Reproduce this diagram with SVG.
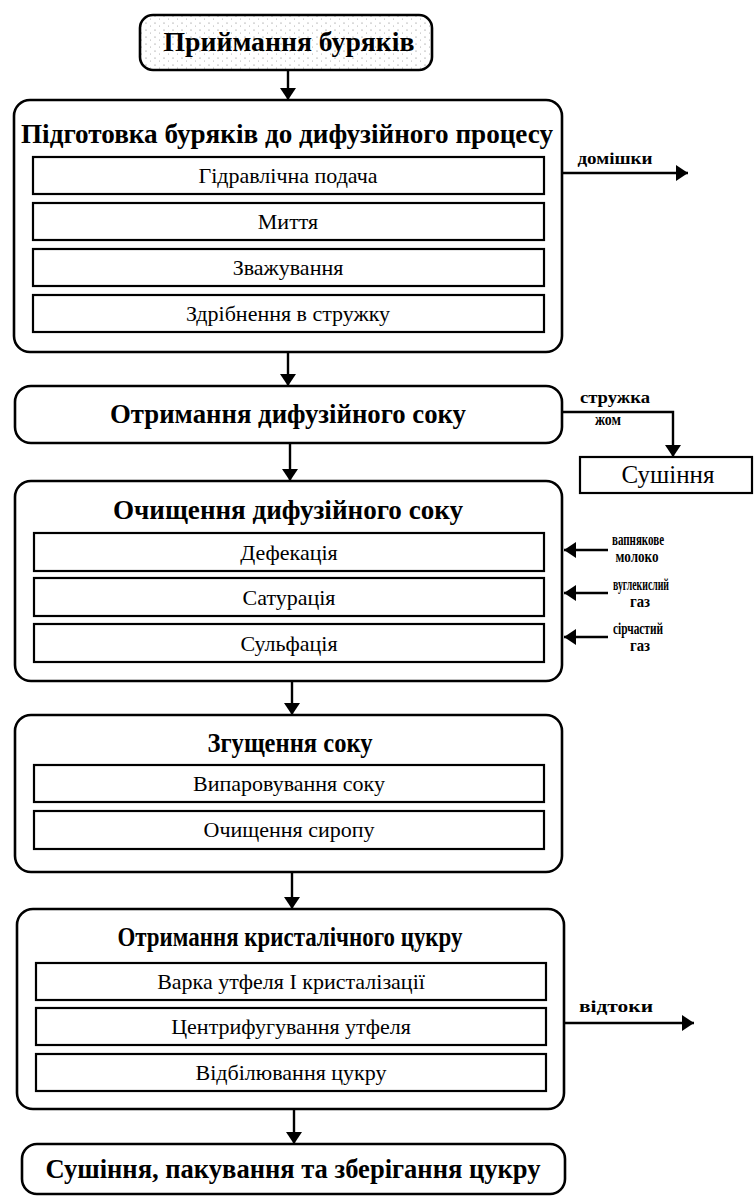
<svg xmlns="http://www.w3.org/2000/svg" width="756" height="1196" viewBox="0 0 756 1196">
<style>
.outer{fill:#fff;stroke:#000;stroke-width:2.6}
.inner{fill:#fff;stroke:#000;stroke-width:2.2}
.title{font-family:"Liberation Serif",serif;font-weight:bold;font-size:27px;text-anchor:middle}
.item{font-family:"Liberation Serif",serif;font-size:22px;text-anchor:middle}
.lbl{font-family:"Liberation Serif",serif;font-weight:bold;font-size:16px;text-anchor:middle}
.conn{stroke:#000;stroke-width:2.4;fill:none}
</style>
<defs>
<marker id="ah" viewBox="0 0 12 16" refX="12" refY="8" markerWidth="12" markerHeight="16" markerUnits="userSpaceOnUse" orient="auto">
<path d="M0,0 L12,8 L0,16 Z" fill="#000"/>
</marker>
<pattern id="speck" width="9" height="7" patternUnits="userSpaceOnUse">
<rect width="9" height="7" fill="#fff"/>
<circle cx="2" cy="2" r="0.6" fill="#777"/>
<circle cx="6.5" cy="5" r="0.5" fill="#999"/>
</pattern>
</defs>
<rect width="756" height="1196" fill="#fff"/>

<g id="connectors">
<line class="conn" x1="288" y1="70" x2="288" y2="100" marker-end="url(#ah)"/>
<line class="conn" x1="562" y1="173" x2="688" y2="173" marker-end="url(#ah)"/>
<line class="conn" x1="288" y1="352" x2="288" y2="386" marker-end="url(#ah)"/>
<polyline class="conn" points="562,412 673,412 673,457" marker-end="url(#ah)"/>
<line class="conn" x1="290" y1="443" x2="290" y2="481" marker-end="url(#ah)"/>
<line class="conn" x1="608" y1="550" x2="564" y2="550" marker-end="url(#ah)"/>
<line class="conn" x1="608" y1="593" x2="564" y2="593" marker-end="url(#ah)"/>
<line class="conn" x1="608" y1="637" x2="564" y2="637" marker-end="url(#ah)"/>
<line class="conn" x1="292" y1="681" x2="292" y2="715" marker-end="url(#ah)"/>
<line class="conn" x1="292" y1="872" x2="292" y2="909" marker-end="url(#ah)"/>
<line class="conn" x1="562" y1="1023" x2="694" y2="1023" marker-end="url(#ah)"/>
<line class="conn" x1="294" y1="1109" x2="294" y2="1144" marker-end="url(#ah)"/>
</g>

<g id="n-receive">
<rect x="140" y="15" width="292" height="55" rx="13" fill="url(#speck)" stroke="#000" stroke-width="2.6"/>
<text class="title" x="289" y="51" textLength="251" lengthAdjust="spacingAndGlyphs">Приймання буряків</text>
</g>

<g id="n-prep">
<rect class="outer" x="14" y="100" width="548" height="252" rx="16"/>
<text class="title" x="287" y="143" textLength="532" lengthAdjust="spacingAndGlyphs">Підготовка буряків до дифузійного процесу</text>
<rect class="inner" x="33" y="157" width="511" height="37"/>
<text class="item" x="288" y="183">Гідравлічна подача</text>
<rect class="inner" x="33" y="203" width="511" height="37"/>
<text class="item" x="288" y="229">Миття</text>
<rect class="inner" x="33" y="249" width="511" height="37"/>
<text class="item" x="288" y="275">Зважування</text>
<rect class="inner" x="33" y="295" width="511" height="37"/>
<text class="item" x="288" y="321">Здрібнення в стружку</text>
</g>
<text class="lbl" x="615" y="164" textLength="75" lengthAdjust="spacingAndGlyphs">домішки</text>

<g id="n-juice">
<rect class="outer" x="15" y="386" width="547" height="57" rx="16"/>
<text class="title" x="288" y="423" textLength="356" lengthAdjust="spacingAndGlyphs">Отримання дифузійного соку</text>
</g>
<text class="lbl" x="615" y="403" textLength="70" lengthAdjust="spacingAndGlyphs">стружка</text>
<text class="lbl" x="608" y="425" textLength="26" lengthAdjust="spacingAndGlyphs">жом</text>

<g id="n-dry1">
<rect class="inner" x="580" y="457" width="172" height="36"/>
<text class="item" x="668" y="483" style="font-size:25px">Сушіння</text>
</g>

<g id="n-clean">
<rect class="outer" x="15" y="481" width="547" height="200" rx="16"/>
<text class="title" x="288" y="519" textLength="350" lengthAdjust="spacingAndGlyphs">Очищення дифузійного соку</text>
<rect class="inner" x="34" y="533" width="510" height="38"/>
<text class="item" x="289" y="560">Дефекація</text>
<rect class="inner" x="34" y="578" width="510" height="38"/>
<text class="item" x="289" y="605">Сатурація</text>
<rect class="inner" x="34" y="624" width="510" height="38"/>
<text class="item" x="289" y="651">Сульфація</text>
</g>
<text class="lbl" x="638" y="545" textLength="52" lengthAdjust="spacingAndGlyphs">вапнякове</text>
<text class="lbl" x="637" y="562" textLength="43" lengthAdjust="spacingAndGlyphs">молоко</text>
<text class="lbl" x="641" y="590" textLength="56" lengthAdjust="spacingAndGlyphs">вуглекислий</text>
<text class="lbl" x="640" y="607" textLength="20" lengthAdjust="spacingAndGlyphs">газ</text>
<text class="lbl" x="638" y="634" textLength="50" lengthAdjust="spacingAndGlyphs">сірчастий</text>
<text class="lbl" x="640" y="651" textLength="20" lengthAdjust="spacingAndGlyphs">газ</text>

<g id="n-thick">
<rect class="outer" x="15" y="715" width="547" height="157" rx="16"/>
<text class="title" x="290" y="752" textLength="165" lengthAdjust="spacingAndGlyphs">Згущення соку</text>
<rect class="inner" x="34" y="765" width="510" height="37"/>
<text class="item" x="289" y="791">Випаровування соку</text>
<rect class="inner" x="34" y="811" width="510" height="38"/>
<text class="item" x="289" y="837">Очищення сиропу</text>
</g>

<g id="n-cryst">
<rect class="outer" x="17" y="909" width="547" height="200" rx="16"/>
<text class="title" x="290" y="946" textLength="345" lengthAdjust="spacingAndGlyphs">Отримання кристалічного цукру</text>
<rect class="inner" x="36" y="963" width="510" height="37"/>
<text class="item" x="291" y="989">Варка утфеля І кристалізації</text>
<rect class="inner" x="36" y="1008" width="510" height="37"/>
<text class="item" x="291" y="1034">Центрифугування утфеля</text>
<rect class="inner" x="36" y="1054" width="510" height="37"/>
<text class="item" x="291" y="1080">Відбілювання цукру</text>
</g>
<text class="lbl" x="616" y="1012" textLength="74" lengthAdjust="spacingAndGlyphs">відтоки</text>

<g id="n-final">
<rect class="outer" x="22" y="1144" width="543" height="50" rx="15"/>
<text class="title" x="293" y="1178" textLength="495" lengthAdjust="spacingAndGlyphs">Сушіння, пакування та зберігання цукру</text>
</g>
</svg>
